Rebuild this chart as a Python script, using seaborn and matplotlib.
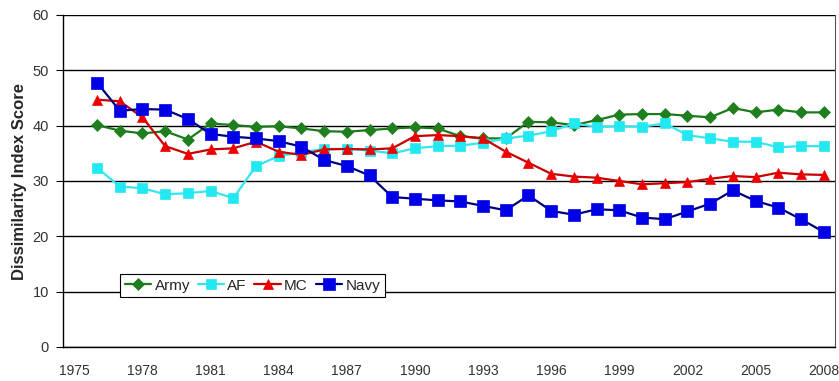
import numpy as np
import pandas as pd
import matplotlib
matplotlib.use("Agg")
import matplotlib.pyplot as plt
import seaborn as sns

years = list(range(1976, 2009))
army = [40.1, 39.1, 38.6, 39.0, 37.5, 40.4, 40.1, 39.8, 39.9, 39.5, 39.0, 38.9, 39.2, 39.5, 39.7, 39.5,
        38.1, 37.7, 37.7, 40.7, 40.6, 40.1, 41.0, 42.0, 42.1, 42.1, 41.8, 41.5, 43.2, 42.4, 42.9, 42.4, 42.4]
af = [32.4, 29.0, 28.7, 27.6, 27.8, 28.2, 26.9, 32.7, 34.5, 35.2, 35.8, 35.8, 35.5, 35.0, 35.9, 36.3,
      36.4, 36.9, 37.7, 38.2, 39.0, 40.4, 39.8, 39.9, 39.8, 40.4, 38.3, 37.7, 37.1, 37.1, 36.1, 36.3, 36.3]
mc = [44.7, 44.4, 41.5, 36.3, 34.9, 35.7, 35.9, 37.1, 35.3, 34.7, 35.7, 35.8, 35.7, 35.9, 38.1, 38.3,
      38.1, 37.7, 35.3, 33.3, 31.3, 30.8, 30.6, 30.0, 29.4, 29.6, 29.8, 30.4, 30.9, 30.7, 31.5, 31.2, 31.1]
navy = [47.8, 42.7, 43.0, 42.9, 41.2, 38.5, 38.0, 37.7, 37.2, 36.2, 33.8, 32.7, 31.0, 27.1, 26.8, 26.5,
        26.3, 25.5, 24.7, 27.4, 24.6, 23.9, 24.9, 24.7, 23.4, 23.1, 24.5, 25.9, 28.3, 26.4, 25.2, 23.1, 20.8]
tick_years = [1975, 1978, 1981, 1984, 1987, 1990, 1993, 1996, 1999, 2002, 2005, 2008]

sns.set_style("white")
plt.rcParams['font.family'] = ['Liberation Sans', 'DejaVu Sans']

fig = plt.figure(figsize=(8.39, 3.81), dpi=100)
ax = fig.add_axes([63/839, 1 - 347/381, 772/839, 332/381])

series = [
    ("Army", army, "#1a7a1a", "#1f7f1f", "D", 6.0),
    ("AF", af, "#33e6f0", "#22e8f2", "s", 6.5),
    ("MC", mc, "#c80000", "#ee0000", "^", 7.0),
    ("Navy", navy, "#00007a", "#0000e6", "s", 9.0),
]
for name, vals, lc, mcol, mk, ms in series:
    sns.lineplot(x=years, y=vals, ax=ax, label=name, color=lc, linewidth=1.6,
                 marker=mk, markersize=ms, markerfacecolor=mcol, markeredgecolor=mcol,
                 markeredgewidth=0.5)

ax.set_xlim(1974.5, 2008.5)
ax.set_ylim(0, 60)
ax.set_yticks(range(0, 61, 10))
ax.set_xticks(tick_years)
ax.set_xticks(np.arange(1974.5, 2009, 1), minor=True)
ax.tick_params(axis='x', which='major', length=0, labelsize=10, labelcolor='#333333', pad=12)
ax.tick_params(axis='x', which='minor', length=5, width=0.8, color='black', direction='out')
ax.tick_params(axis='y', which='major', length=5, width=0.8, color='black', direction='out',
               labelsize=10.5, labelcolor='#333333', left=True, pad=5)
ax.grid(axis='y', color='black', linewidth=1.0)
ax.set_axisbelow(True)
for s in ['left', 'bottom']:
    ax.spines[s].set_color('black')
    ax.spines[s].set_linewidth(1.0)
ax.spines['top'].set_visible(False)
ax.spines['right'].set_color('#555555')
ax.spines['right'].set_linewidth(0.8)
ax.set_xlabel('')
ax.set_ylabel('Dissimilarity Index Score', fontsize=12, fontweight='bold', labelpad=4)

leg = ax.legend(ncol=4, loc='lower left', bbox_to_anchor=(0.074, 0.15), frameon=True,
                fancybox=False, fontsize=11, handlelength=1.75, handletextpad=0.2,
                columnspacing=0.5, borderpad=0.3, borderaxespad=0)
leg.get_frame().set_edgecolor('black')
leg.get_frame().set_linewidth(0.8)
leg.get_frame().set_alpha(1)

fig.savefig('out.png', dpi=100)
